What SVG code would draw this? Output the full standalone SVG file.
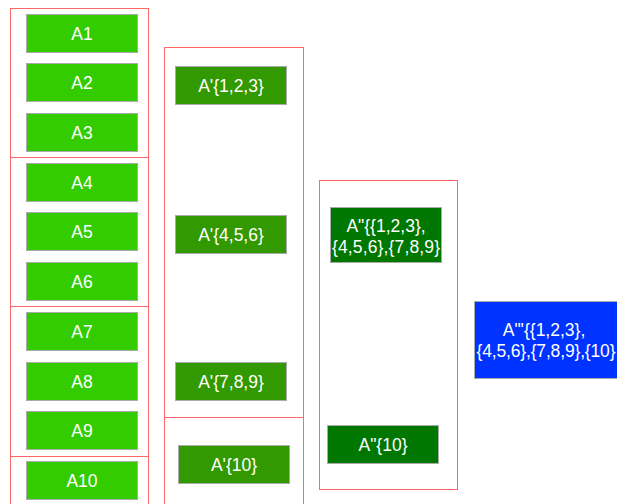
<svg xmlns="http://www.w3.org/2000/svg" width="617" height="504" viewBox="0 0 617 504">
<style>
.grp{fill:none;stroke:#ff6666;stroke-width:1}
.n rect{stroke:#aaaaaa;stroke-width:1}
.c1 rect{fill:#33cc00}
.c2 rect{fill:#339900}
.c3 rect{fill:#007700}
.c4 rect{fill:#0033ff}
text{font-family:"Liberation Sans",Arial,sans-serif;font-size:17.5px;fill:#ffffff;text-anchor:middle}
text.l{text-anchor:start}
</style>
<rect width="617" height="504" fill="#ffffff"/>
<g id="groups">
<rect class="grp" x="10.5" y="8.5" width="138" height="149"/>
<rect class="grp" x="10.5" y="157.5" width="138" height="149"/>
<rect class="grp" x="10.5" y="306.5" width="138" height="150"/>
<rect class="grp" x="10.5" y="456.5" width="138" height="60"/>
<rect class="grp" x="164.5" y="47.5" width="139" height="370"/>
<rect class="grp" x="164.5" y="417.5" width="139" height="100"/>
<rect class="grp" x="319.5" y="180.5" width="138" height="309"/>
</g>
<g id="connectors"></g>
<g id="A1" class="n c1"><rect x="26.5" y="14.5" width="111" height="38"/><text x="82" y="40">A1</text></g>
<g id="A2" class="n c1"><rect x="26.5" y="63.5" width="111" height="38"/><text x="82" y="89">A2</text></g>
<g id="A3" class="n c1"><rect x="26.5" y="113.5" width="111" height="38"/><text x="82" y="139">A3</text></g>
<g id="A4" class="n c1"><rect x="26.5" y="163.5" width="111" height="38"/><text x="82" y="189">A4</text></g>
<g id="A5" class="n c1"><rect x="26.5" y="212.5" width="111" height="38"/><text x="82" y="238">A5</text></g>
<g id="A6" class="n c1"><rect x="26.5" y="262.5" width="111" height="38"/><text x="82" y="288">A6</text></g>
<g id="A7" class="n c1"><rect x="26.5" y="312.5" width="111" height="38"/><text x="82" y="338">A7</text></g>
<g id="A8" class="n c1"><rect x="26.5" y="362.5" width="111" height="38"/><text x="82" y="388">A8</text></g>
<g id="A9" class="n c1"><rect x="26.5" y="411.5" width="111" height="38"/><text x="82" y="437">A9</text></g>
<g id="A10" class="n c1"><rect x="26.5" y="461.5" width="111" height="38"/><text x="82" y="487">A10</text></g>
<g id="B123" class="n c2"><rect x="175.5" y="66.5" width="111" height="38"/><text x="231" y="92">A'{1,2,3}</text></g>
<g id="B456" class="n c2"><rect x="175.5" y="215.5" width="111" height="38"/><text x="231" y="241">A'{4,5,6}</text></g>
<g id="B789" class="n c2"><rect x="175.5" y="362.5" width="111" height="38"/><text x="231" y="388">A'{7,8,9}</text></g>
<g id="B10" class="n c2"><rect x="178.5" y="445.5" width="111" height="38"/><text x="234" y="471">A'{10}</text></g>
<g id="C123456789" class="n c3"><rect x="330.5" y="207.5" width="111" height="55"/><text x="386" y="231.5">A"{{1,2,3},</text><text class="l" x="332" y="252.5" textLength="108">{4,5,6},{7,8,9}</text></g>
<g id="C10" class="n c3"><rect x="327.5" y="425.5" width="111" height="38"/><text x="383" y="451">A"{10}</text></g>
<g id="D" class="n c4"><rect x="474.5" y="301.5" width="143" height="77"/><text x="544" y="336">A"'{{1,2,3},</text><text class="l" x="476.5" y="357" textLength="139">{4,5,6},{7,8,9},{10}</text></g>
</svg>
